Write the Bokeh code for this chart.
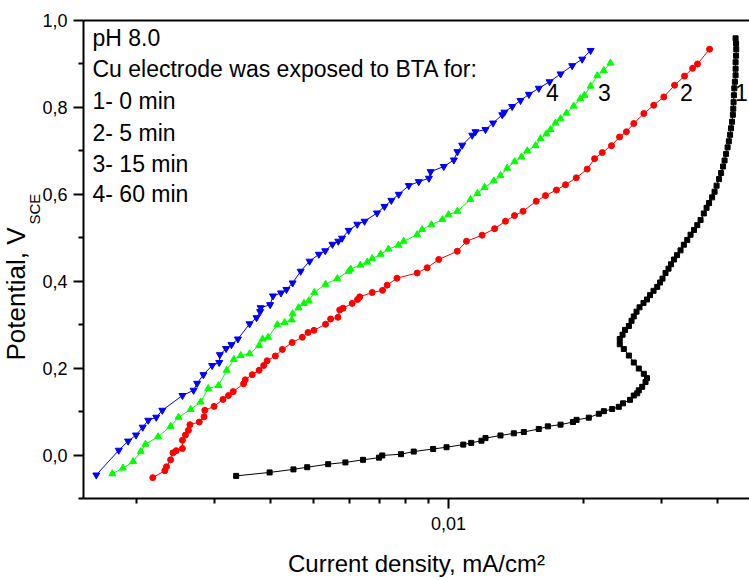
from bokeh.plotting import figure
from bokeh.models import Range1d, FixedTicker, CustomJSTickFormatter, LogAxis, Label, Title
from bokeh.embed import file_html
from bokeh.resources import INLINE

# ---------------- data (current density mA/cm2, potential V vs SCE) ----------------
i_0min = [0.00335, 0.00398, 0.00450, 0.00483, 0.00538, 0.00588, 0.00644, 0.00699, 0.00711,
          0.00783, 0.00836, 0.00924, 0.00990, 0.01079, 0.01124, 0.01185, 0.01210, 0.01307,
          0.01400, 0.01474, 0.01592, 0.01668, 0.01781, 0.01899, 0.01934, 0.02060, 0.02169,
          0.02226, 0.02323, 0.02404, 0.02457, 0.02547, 0.02597, 0.02643, 0.02665, 0.02712,
          0.02759, 0.02780, 0.02735, 0.02665, 0.02597, 0.02532, 0.02467, 0.02416, 0.02416,
          0.02451, 0.02483, 0.02532, 0.02567, 0.02597, 0.02634, 0.02675, 0.02730, 0.02780,
          0.02824, 0.02875, 0.02930, 0.02973, 0.03011, 0.03058, 0.03106, 0.03146, 0.03195,
          0.03245, 0.03304, 0.03361, 0.03420, 0.03479, 0.03542, 0.03601, 0.03663, 0.03725,
          0.03778, 0.03827, 0.03887, 0.03937, 0.03978, 0.04029, 0.04071, 0.04113, 0.04145,
          0.04177, 0.04210, 0.04238, 0.04265, 0.04286, 0.04308, 0.04326, 0.04335, 0.04342,
          0.04349, 0.04358, 0.04371, 0.04387, 0.04387, 0.04387, 0.04398, 0.04402, 0.04398,
          0.04387]
e_0min = [-0.048, -0.040, -0.033, -0.028, -0.021, -0.017, -0.011, -0.006, -0.001,
          0.002, 0.008, 0.014, 0.018, 0.024, 0.028, 0.033, 0.039, 0.045,
          0.050, 0.053, 0.060, 0.066, 0.070, 0.076, 0.081, 0.086, 0.095,
          0.101, 0.106, 0.111, 0.119, 0.127, 0.137, 0.142, 0.149, 0.157,
          0.168, 0.177, 0.187, 0.199, 0.213, 0.229, 0.244, 0.255, 0.267,
          0.277, 0.288, 0.297, 0.309, 0.319, 0.330, 0.340, 0.350, 0.358,
          0.368, 0.378, 0.387, 0.397, 0.406, 0.419, 0.429, 0.439, 0.450,
          0.460, 0.471, 0.484, 0.495, 0.507, 0.518, 0.529, 0.541, 0.556,
          0.569, 0.580, 0.593, 0.606, 0.620, 0.635, 0.649, 0.664, 0.678,
          0.693, 0.708, 0.722, 0.737, 0.752, 0.767, 0.783, 0.797, 0.812,
          0.828, 0.844, 0.859, 0.874, 0.889, 0.904, 0.919, 0.934, 0.947,
          0.959]

i_5min = [0.00218, 0.00232, 0.00234, 0.00239, 0.00242, 0.00246, 0.00254, 0.00254, 0.00258,
          0.00262, 0.00264, 0.00277, 0.00284, 0.00285, 0.00299, 0.00313, 0.00322, 0.00330,
          0.00348, 0.00351, 0.00364, 0.00377, 0.00386, 0.00393, 0.00410, 0.00425, 0.00447,
          0.00471, 0.00485, 0.00500, 0.00531, 0.00545, 0.00566, 0.00571, 0.00581, 0.00609,
          0.00626, 0.00633, 0.00675, 0.00712, 0.00729, 0.00767, 0.00851, 0.00896, 0.00951,
          0.01046, 0.01097, 0.01189, 0.01268, 0.01341, 0.01405, 0.01468, 0.01571, 0.01648,
          0.01744, 0.01827, 0.01931, 0.02043, 0.02122, 0.02208, 0.02315, 0.02413, 0.02500,
          0.02597, 0.02735, 0.02878, 0.03031, 0.03204, 0.03373, 0.03516, 0.03606, 0.03837]
e_5min = [-0.052, -0.036, -0.027, -0.011, 0.005, 0.010, 0.015, 0.034, 0.046,
          0.057, 0.070, 0.076, 0.088, 0.103, 0.112, 0.128, 0.137, 0.146,
          0.164, 0.173, 0.185, 0.195, 0.206, 0.217, 0.228, 0.243, 0.259,
          0.271, 0.282, 0.287, 0.301, 0.313, 0.317, 0.334, 0.338, 0.349,
          0.358, 0.364, 0.374, 0.379, 0.391, 0.407, 0.419, 0.431, 0.450,
          0.469, 0.492, 0.506, 0.521, 0.538, 0.551, 0.561, 0.584, 0.597,
          0.610, 0.622, 0.638, 0.658, 0.682, 0.696, 0.712, 0.732, 0.744,
          0.763, 0.786, 0.805, 0.824, 0.851, 0.872, 0.890, 0.900, 0.934]

i_15min = [0.00177, 0.00187, 0.00197, 0.00205, 0.00210, 0.00224, 0.00239, 0.00249, 0.00265,
           0.00279, 0.00290, 0.00306, 0.00319, 0.00331, 0.00343, 0.00359, 0.00377, 0.00384,
           0.00395, 0.00414, 0.00430, 0.00446, 0.00448, 0.00462, 0.00475, 0.00487, 0.00501,
           0.00531, 0.00564, 0.00598, 0.00604, 0.00635, 0.00658, 0.00675, 0.00705, 0.00734,
           0.00773, 0.00794, 0.00851, 0.00873, 0.00916, 0.00969, 0.01000, 0.01047, 0.01120,
           0.01161, 0.01204, 0.01263, 0.01307, 0.01353, 0.01405, 0.01456, 0.01500, 0.01566,
           0.01607, 0.01656, 0.01691, 0.01735, 0.01781, 0.01837, 0.01906, 0.01972, 0.02014,
           0.02079, 0.02152, 0.02225, 0.02303]
e_15min = [-0.043, -0.030, -0.015, 0.008, 0.025, 0.042, 0.066, 0.087, 0.105,
           0.122, 0.153, 0.160, 0.195, 0.220, 0.229, 0.233, 0.252, 0.267,
           0.271, 0.300, 0.305, 0.311, 0.325, 0.339, 0.349, 0.355, 0.374,
           0.393, 0.406, 0.423, 0.428, 0.437, 0.444, 0.452, 0.462, 0.474,
           0.483, 0.492, 0.507, 0.519, 0.530, 0.542, 0.553, 0.561, 0.588,
           0.602, 0.616, 0.631, 0.643, 0.660, 0.675, 0.686, 0.700, 0.712,
           0.728, 0.739, 0.749, 0.764, 0.774, 0.787, 0.803, 0.820, 0.828,
           0.849, 0.873, 0.885, 0.902]

i_60min = [0.00163, 0.00183, 0.00192, 0.00200, 0.00207, 0.00213, 0.00222, 0.00229, 0.00254,
           0.00269, 0.00274, 0.00283, 0.00296, 0.00307, 0.00308, 0.00318, 0.00327, 0.00338,
           0.00359, 0.00372, 0.00379, 0.00380, 0.00399, 0.00405, 0.00422, 0.00434, 0.00448,
           0.00467, 0.00489, 0.00513, 0.00530, 0.00550, 0.00567, 0.00578, 0.00598, 0.00625,
           0.00649, 0.00692, 0.00719, 0.00745, 0.00774, 0.00815, 0.00858, 0.00904, 0.00912,
           0.00976, 0.01028, 0.01047, 0.01073, 0.01130, 0.01149, 0.01210, 0.01258, 0.01319,
           0.01334, 0.01388, 0.01449, 0.01513, 0.01592, 0.01683, 0.01781, 0.01891, 0.01991,
           0.02079]
e_60min = [-0.046, 0.011, 0.032, 0.046, 0.064, 0.080, 0.087, 0.103, 0.137,
           0.149, 0.165, 0.185, 0.206, 0.213, 0.231, 0.245, 0.254, 0.267,
           0.302, 0.316, 0.330, 0.339, 0.346, 0.366, 0.373, 0.381, 0.396,
           0.423, 0.446, 0.462, 0.470, 0.485, 0.492, 0.499, 0.517, 0.531,
           0.538, 0.557, 0.572, 0.586, 0.600, 0.620, 0.629, 0.637, 0.652,
           0.664, 0.679, 0.698, 0.713, 0.736, 0.744, 0.749, 0.764, 0.783,
           0.789, 0.802, 0.816, 0.830, 0.844, 0.859, 0.877, 0.896, 0.911,
           0.931]

x_major_ticks = [0.01]
x_minor_ticks = [0.002, 0.003, 0.004, 0.005, 0.006, 0.007, 0.008, 0.009, 0.02, 0.03, 0.04]
y_major_ticks = [0.0, 0.2, 0.4, 0.6, 0.8, 1.0]
y_minor_ticks = [-0.1, 0.1, 0.3, 0.5, 0.7, 0.9]

info_lines = ["pH 8.0", "Cu electrode was exposed to BTA for:",
              "1- 0 min", "2- 5 min", "3- 15 min", "4- 60 min"]
curve_tags = ["1", "2", "3", "4"]
x_title = "Current density, mA/cm\u00b2"
y_title = "Potential, V"
y_title_sub = "SCE"

FONT = "Liberation Sans"

p = figure(width=749, height=580, x_axis_type="log",
           x_range=Range1d(0.001526, 0.04713), y_range=Range1d(-0.1, 1.0),
           output_backend="svg", toolbar_location=None,
           min_border_left=83, min_border_right=0, min_border_top=20, min_border_bottom=82)
p.outline_line_color = None
p.xgrid.visible = False
p.ygrid.visible = False
p.background_fill_color = "white"
p.border_fill_color = "white"

for ax in (p.xaxis[0], p.yaxis[0]):
    ax.axis_line_width = 2
    ax.axis_line_color = "black"
    ax.major_tick_in = 0
    ax.major_tick_out = 10
    ax.minor_tick_in = 0
    ax.minor_tick_out = 5
    ax.major_tick_line_width = 2
    ax.minor_tick_line_width = 2
    ax.major_label_text_font = FONT
    ax.major_label_text_font_size = "18px"
    ax.major_label_text_color = "black"

p.xaxis[0].ticker = FixedTicker(ticks=x_major_ticks, minor_ticks=x_minor_ticks)
p.xaxis[0].formatter = CustomJSTickFormatter(code="return tick.toFixed(2).replace('.', ',');")
p.xaxis[0].major_label_standoff = 8
p.xaxis[0].axis_label = x_title
p.xaxis[0].axis_label_text_font = FONT
p.xaxis[0].axis_label_text_font_size = "24px"
p.xaxis[0].axis_label_text_font_style = "normal"
p.xaxis[0].axis_label_text_color = "black"
p.xaxis[0].axis_label_standoff = 17

p.yaxis[0].ticker = FixedTicker(ticks=y_major_ticks, minor_ticks=y_minor_ticks)
p.yaxis[0].formatter = CustomJSTickFormatter(code="return tick.toFixed(1).replace('.', ',');")
p.yaxis[0].major_label_standoff = 6

top = LogAxis(ticker=FixedTicker(ticks=[], minor_ticks=[]), axis_line_width=2,
              major_tick_line_color=None, minor_tick_line_color=None,
              major_label_text_font_size="0px")
p.add_layout(top, "above")

# y-axis title as two titles in the left panel: subscript (inner) then main text (outer)
p.add_layout(Title(text=y_title_sub, align="left", offset=274, standoff=-9,
                   vertical_align="middle",
                   text_font=FONT, text_font_size="15px", text_font_style="normal",
                   text_color="black"), "left")
p.add_layout(Title(text=y_title, align="left", offset=138, standoff=-5,
                   vertical_align="middle",
                   text_font=FONT, text_font_size="26px", text_font_style="normal",
                   text_color="black"), "left")

series = [
    (i_0min, e_0min, "black", "square", 5),
    (i_5min, e_5min, "red", "circle", 6),
    (i_15min, e_15min, "#00ff00", "triangle", 7),
    (i_60min, e_60min, "blue", "inverted_triangle", 7),
]
for xs, ys, col, mk, sz in series:
    p.line(xs, ys, line_color=col, line_width=1)
    p.scatter(xs, ys, marker=mk, size=sz, fill_color=col, line_color=col)

# info text (screen units relative to the frame)
info_y = [461, 430, 398, 366, 335, 305]
for t, yy in zip(info_lines, info_y):
    p.add_layout(Label(x=9, y=yy, x_units="screen", y_units="screen", text=t,
                       text_font=FONT, text_font_size="23px", text_align="left",
                       text_baseline="middle", text_color="black"))

tag_x = [658, 603, 521, 469]
for t, xx in zip(curve_tags, tag_x):
    p.add_layout(Label(x=xx, y=406, x_units="screen", y_units="screen", text=t,
                       text_font=FONT, text_font_size="23px", text_align="center",
                       text_baseline="middle", text_color="black"))

open("out.html", "w").write(file_html(p, INLINE))
